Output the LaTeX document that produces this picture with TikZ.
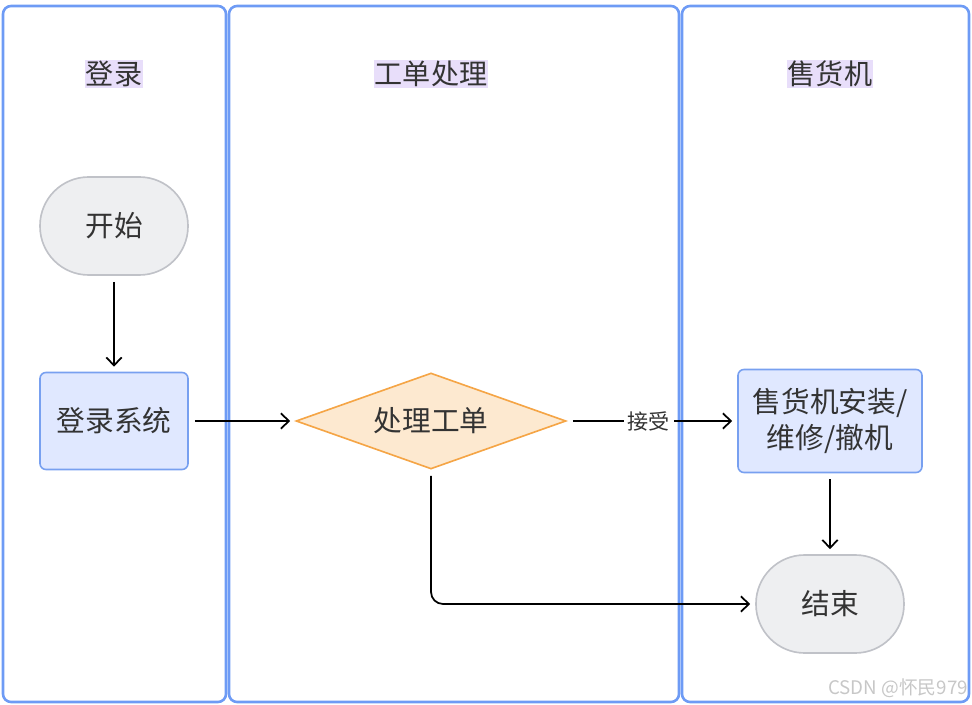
\documentclass[tikz,border=0pt]{standalone}
\usepackage{fontspec}
\setmainfont{Noto Sans CJK SC}
\usetikzlibrary{shapes.geometric,arrows.meta}
\definecolor{lanec}{RGB}{110,155,245}
\definecolor{titlec}{RGB}{232,222,250}
\definecolor{termfill}{RGB}{238,239,241}
\definecolor{termline}{RGB}{192,194,200}
\definecolor{procfill}{RGB}{224,232,255}
\definecolor{procline}{RGB}{120,160,240}
\definecolor{decfill}{RGB}{253,233,208}
\definecolor{decline}{RGB}{245,165,70}
\definecolor{txt}{RGB}{51,51,51}
\begin{document}
\begin{tikzpicture}[x=0.3mm, y=-0.3mm,
  lane/.style={draw=lanec, line width=2.2pt, rounded corners=2.4mm},
  title/.style={fill=titlec, text=txt, inner sep=0.2mm, font=\fontsize{24}{27}\selectfont},
  term/.style={draw=termline, fill=termfill, line width=1.4pt, text=txt,
    minimum width=44.4mm, minimum height=29.4mm, rounded corners=14.6mm,
    font=\fontsize{24.5}{27}\selectfont},
  proc/.style={draw=procline, fill=procfill, line width=1.4pt, text=txt,
    rounded corners=1.8mm, font=\fontsize{24.5}{31}\selectfont, align=center},
  dec/.style={diamond, aspect=2.8, draw=decline, fill=decfill, line width=1.4pt, text=txt,
    minimum width=81mm, minimum height=28.8mm, inner sep=0pt,
    font=\fontsize{24.5}{27}\selectfont},
  flow/.style={-{Straight Barb[length=2.4mm, width=4.6mm]}, line width=1.5pt,
    shorten <=1.8mm, shorten >=1.5mm}]
  \useasboundingbox (0,0) rectangle (972,705);

  % lanes
  \draw[lane] (3,6) rectangle (226,702);
  \draw[lane] (229,6) rectangle (679,702);
  \draw[lane] (682,6) rectangle (969,702);

  \node[title] (t1) at (114,74) {登录};
  \node[title] (t2) at (431,74) {工单处理};
  \node[title] (t3) at (830,74) {售货机};

  % nodes
  \node[term] (start) at (114,226) {开始};
  \node[proc, minimum width=44.4mm, minimum height=29.1mm] (login) at (114,421) {登录系统};
  \node[dec] (handle) at (431,421) {处理工单};
  \node[proc, minimum width=55.2mm, minimum height=30.9mm] (work) at (830,421) {售货机安装/\\维修/撤机};
  \node[term] (end) at (830,604) {结束};
  \coordinate (turn) at (431,604);

  % edges
  \draw[flow] (start) -- (login);
  \draw[flow] (login) -- (handle);
  \draw[flow] (handle) -- node[fill=white, text=txt, inner xsep=1.2mm, pos=0.48,
    font=\fontsize{18}{20}\selectfont] {接受} (work);
  \draw[flow] (work) -- (end);
  \draw[flow, rounded corners=3.6mm] (handle) -- (turn) -- (end);

  \node[text=black!22, font=\fontsize{16}{18}\selectfont] (mark) at (898,688) {CSDN @怀民979};
\end{tikzpicture}
\end{document}
